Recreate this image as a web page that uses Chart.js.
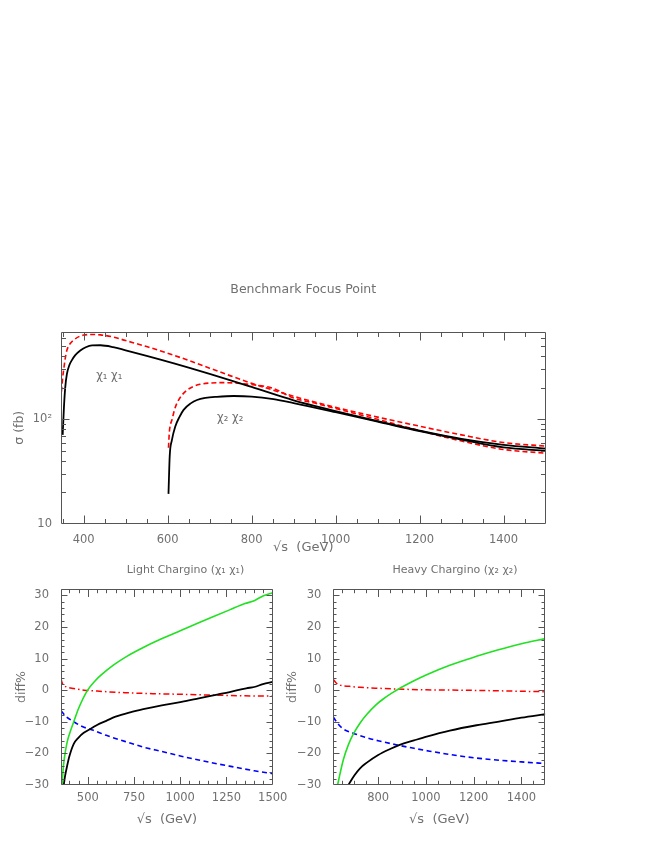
<!DOCTYPE html>
<html><head><meta charset="utf-8">
<script src="https://cdn.jsdelivr.net/npm/chart.js@4.4.1/dist/chart.umd.min.js"></script>
<style>
html,body{margin:0;padding:0;background:#fff;}
#wrap{position:relative;width:654px;height:846px;background:#fff;}
#wrap canvas{position:absolute;left:0;top:0;}
</style></head><body>
<div id="wrap">
<canvas id="cTop" width="654" height="846"></canvas>
<canvas id="cLight" width="654" height="846"></canvas>
<canvas id="cHeavy" width="654" height="846"></canvas>
</div>
<script>
// ---------- DATA: top panel, cross sections sigma (fb) vs sqrt(s) (GeV) ----------
const x1BlackS   = [350,353,356,360,366,372,380,392,405,420,440,470,500,550,600,650,700,750,800,900,1000,1100,1200,1300,1400,1500];
const x1BlackSig = [71,130,200,270,330,368,410,455,488,508,510,490,456,404,355,312,272,236,204,152,120,96,78,65,57,52.5];
const x1RedS     = [347,350,353,356,360,368,376,390,400,420,440,470,500,550,600,650,700,750,800,900,1000,1100,1200,1300,1400,1500];
const x1RedSig   = [184,250,310,380,457,530,571,620,638,646,640,612,565,495,428,365,308,260,221,166,130,105,86,71,60,55.5];
const x2BlackS   = [602,605,610,618,628,638,655,670,690,717,757,800,852,900,1000,1100,1200,1300,1400,1500];
const x2BlackSig = [19.4,45,63,85,105,123,142,153,160,164,167,165,156,143,117,95,77,64,54,50];
const x2RedS     = [602,604,607,610,616,622,634,646,660,677,700,733,789,850,900,950,1000,1100,1200,1300,1400,1500];
const x2RedSig   = [53.6,75,90,98,122,142,170,190,205,216,222,224,217,198,160,143,127,100,78,62,51.5,47.5];

// ---------- DATA: Light chargino diff% ----------
const lightGreenS = [361,366,370,377,388,400,424,450,499,540,576,640,711,800,890,1000,1100,1177,1267,1350,1400,1447,1500];
const lightGreenV = [-30,-25.5,-23,-20,-16.5,-14,-10,-5.8,0,3.0,5.0,8.0,10.7,13.5,16.0,18.8,21.3,23.2,25.4,27.4,28.3,29.8,30.8];
const lightBlackS = [370,376,388,400,424,450,478,522,550,600,650,729,800,900,1007,1100,1200,1267,1357,1400,1447,1500];
const lightBlackV = [-30,-27.5,-24,-21,-17,-15,-13.5,-12,-11,-9.7,-8.4,-7.0,-6.0,-4.8,-3.7,-2.6,-1.4,-0.6,0.6,1.0,1.9,2.6];
const lightBlueS  = [355,380,424,470,530,600,700,800,900,1000,1100,1200,1300,1400,1500];
const lightBlueV  = [-6.5,-8.2,-10,-11.5,-12.7,-14.3,-16.2,-18,-19.4,-20.8,-22.1,-23.3,-24.4,-25.5,-26.4];
const lightRedS   = [355,360,369,390,424,480,550,700,850,1000,1200,1350,1500];
const lightRedV   = [3.7,2.5,1.6,0.9,0.5,0,-0.3,-0.8,-1.1,-1.3,-1.6,-1.8,-1.9];

// ---------- DATA: Heavy chargino diff% ----------
const heavyGreenS = [630,640,654,675,695,725,751,793,821,860,900,950,1003,1100,1212,1300,1400,1500];
const heavyGreenV = [-30,-26.5,-22,-17.3,-14,-10.3,-7.8,-4.5,-2.8,-0.8,1.0,3.0,4.9,7.9,10.7,12.7,14.7,16.3];
const heavyBlackS = [675,700,723,751,800,850,890,950,1003,1100,1212,1300,1400,1500];
const heavyBlackV = [-30,-27,-24.8,-23,-20.5,-18.6,-17.3,-15.9,-14.7,-12.8,-11.1,-10,-8.7,-7.6];
const heavyBlueS  = [612,630,654,695,750,800,884,950,1016,1072,1150,1281,1400,1500];
const heavyBlueV  = [-8.5,-10.5,-12.3,-13.6,-15,-16,-17.4,-18.4,-19.3,-20,-20.9,-22,-22.7,-23.2];
const heavyRedS   = [612,625,640,680,723,800,905,1000,1142,1300,1400,1500];
const heavyRedV   = [3.4,2.2,1.6,1.2,0.9,0.6,0.3,0.1,0,-0.2,-0.35,-0.5];

// ---------- ticks ----------
const topXTicks   = [400,600,800,1000,1200,1400];
const topYTicks   = [10,100];
const lightXTicks = [500,750,1000,1250,1500];
const heavyXTicks = [800,1000,1200,1400];
const diffYTicks  = [-30,-20,-10,0,10,20,30];

// ---------- helpers ----------
const pairs = (xs, ys) => xs.map((x, i) => ({x, y: ys[i]}));
const range = (a, b, step) => { const r = []; for (let v = a; v <= b + 1e-9; v += step) r.push(+v.toFixed(6)); return r; };
const logMinors = (lo, hi) => { const r = []; for (let d = 1; d <= 1000; d *= 10) for (let m = 2; m <= 9; m++) { const v = m * d; if (v > lo && v < hi) r.push(v); } return r; };

const TXT = '#707070';
const FONT = "'DejaVu Sans', sans-serif";
Chart.defaults.font.family = FONT;
Chart.defaults.color = TXT;

const framePlugin = {
  id: 'frame',
  afterDatasetsDraw(chart, args, o) {
    const {ctx, chartArea: a} = chart;
    const xs = chart.scales.x, ys = chart.scales.y;
    ctx.save();
    ctx.strokeStyle = '#555';
    ctx.lineWidth = 1;
    const L = Math.round(a.left) + 0.5, R = Math.round(a.right) - 0.5;
    const T = Math.round(a.top) + 0.5, B = Math.round(a.bottom) - 0.5;
    ctx.beginPath();
    ctx.rect(L, T, R - L, B - T);
    const xt = (vals, len) => vals.forEach(v => {
      const p = Math.round(xs.getPixelForValue(v)) + 0.5;
      if (p < L - 0.1 || p > R + 0.1) return;
      ctx.moveTo(p, B); ctx.lineTo(p, B - len);
      ctx.moveTo(p, T); ctx.lineTo(p, T + len);
    });
    const yt = (vals, len) => vals.forEach(v => {
      const p = Math.round(ys.getPixelForValue(v)) + 0.5;
      if (p < T - 0.1 || p > B + 0.1) return;
      ctx.moveTo(L, p); ctx.lineTo(L + len, p);
      ctx.moveTo(R, p); ctx.lineTo(R - len, p);
    });
    xt(o.xMajor, o.xMajLen); xt(o.xMinor, o.xMinLen);
    yt(o.yMajor, o.yMajLen); yt(o.yMinor, o.yMinLen);
    ctx.stroke();
    ctx.fillStyle = TXT;
    ctx.textAlign = 'center';
    ctx.textBaseline = 'middle';
    (o.labels || []).forEach(t => {
      ctx.font = t.size + 'px ' + FONT;
      const px = t.page ? t.x : xs.getPixelForValue(t.x);
      const py = t.page ? t.y : ys.getPixelForValue(t.y);
      ctx.fillText(t.text, px, py);
    });
    ctx.restore();
  }
};

function lineDs(label, xs, ys, color, dash, width) {
  return {label, data: pairs(xs, ys), borderColor: color, borderWidth: width, borderDash: dash,
          pointRadius: 0, fill: false, cubicInterpolationMode: 'monotone'};
}

function makeChart(id, cfg) {
  return new Chart(document.getElementById(id), {
    type: 'line',
    data: {datasets: cfg.datasets},
    plugins: [framePlugin],
    options: {
      responsive: false, animation: false, events: [],
      layout: {padding: cfg.padding},
      plugins: {
        legend: {display: false}, tooltip: {enabled: false},
        title: cfg.title || {display: false},
        frame: cfg.frame
      },
      scales: {
        x: {
          type: 'linear', min: cfg.xMin, max: cfg.xMax,
          grid: {display: false, drawTicks: false}, border: {display: false},
          afterBuildTicks: s => { s.ticks = cfg.xTicks.map(v => ({value: v})); },
          afterFit: s => { s.height = cfg.xHeight; },
          ticks: {autoSkip: false, maxRotation: 0, padding: cfg.xTickPad, color: TXT, font: {size: 11.5},
                  callback: v => String(v)},
          title: {display: true, text: '√s  (GeV)', color: TXT, font: {size: 13}, padding: {top: 0, bottom: cfg.xTitlePad}}
        },
        y: {
          type: cfg.yType, min: cfg.yMin, max: cfg.yMax,
          grid: {display: false, drawTicks: false}, border: {display: false},
          afterBuildTicks: s => { s.ticks = cfg.yTicks.map(v => ({value: v})); },
          afterFit: s => { s.width = 55; },
          ticks: {autoSkip: false, padding: cfg.yTickPad, color: TXT, font: {size: 11.5}, callback: cfg.yLabel},
          title: {display: true, text: cfg.yTitle, color: TXT, font: {size: 12.5}, padding: {top: cfg.yTitlePad, bottom: 0}}
        }
      }
    }
  });
}

// ---------- top panel ----------
makeChart('cTop', {
  datasets: [
    lineDs('χ1χ1', x1BlackS, x1BlackSig, '#000', [], 1.8),
    lineDs('χ1χ1 (dashed)', x1RedS, x1RedSig, '#ff0000', [5, 3], 1.6),
    lineDs('χ2χ2', x2BlackS, x2BlackSig, '#000', [], 1.8),
    lineDs('χ2χ2 (dashed)', x2RedS, x2RedSig, '#ff0000', [5, 3], 1.6)
  ],
  padding: {left: 6, right: 108.5, top: 282.5, bottom: 282},
  title: {display: true, text: 'Benchmark Focus Point', fullSize: false, color: TXT,
          font: {size: 12.5, weight: 'normal'}, padding: {top: 0, bottom: 34}},
  xMin: 346, xMax: 1500, xTicks: topXTicks, xHeight: 40, xTitlePad: 8.5, xTickPad: 9,
  yType: 'logarithmic', yMin: 10, yMax: 690, yTicks: topYTicks, yTickPad: 9,
  yLabel: v => (v === 100 ? '10²' : String(v)),
  yTitle: 'σ (fb)', yTitlePad: 6.5,
  frame: {
    xMajor: topXTicks, xMinor: range(350, 1500, 50).filter(v => v % 200 !== 0), xMajLen: 8, xMinLen: 4.5,
    yMajor: topYTicks, yMinor: logMinors(10, 690), yMajLen: 8, yMinLen: 4.5,
    labels: [
      {text: 'χ₁ χ₁', x: 461, y: 260, size: 11.5},
      {text: 'χ₂ χ₂', x: 749, y: 103, size: 11.5}
    ]
  }
});

// ---------- bottom-left panel ----------
const diffLabel = v => (v < 0 ? '−' + Math.abs(v) : String(v));
makeChart('cLight', {
  datasets: [
    lineDs('green', lightGreenS, lightGreenV, '#22e022', [], 1.6),
    lineDs('black', lightBlackS, lightBlackV, '#000', [], 1.8),
    lineDs('blue', lightBlueS, lightBlueV, '#0000ff', [5, 3.5], 1.6),
    lineDs('red', lightRedS, lightRedV, '#ff0000', [6, 3, 1.5, 3], 1.5)
  ],
  padding: {left: 6, right: 381.3, top: 589, bottom: 16},
  xMin: 355, xMax: 1500, xTicks: lightXTicks, xHeight: 45, xTitlePad: 3, xTickPad: 6,
  yType: 'linear', yMin: -30, yMax: 32, yTicks: diffYTicks, yTickPad: 12, yLabel: diffLabel,
  yTitle: 'diff%', yTitlePad: 8.5,
  frame: {
    xMajor: lightXTicks, xMinor: range(400, 1450, 50).filter(v => v % 250 !== 0), xMajLen: 7.5, xMinLen: 3.7,
    yMajor: diffYTicks, yMinor: range(-28, 32, 2).filter(v => v % 10 !== 0), yMajLen: 6, yMinLen: 3,
    labels: [{text: 'Light Chargino (χ₁ χ₁)', x: 185.5, y: 570, size: 11, page: true}]
  }
});

// ---------- bottom-right panel ----------
makeChart('cHeavy', {
  datasets: [
    lineDs('green', heavyGreenS, heavyGreenV, '#22e022', [], 1.6),
    lineDs('black', heavyBlackS, heavyBlackV, '#000', [], 1.8),
    lineDs('blue', heavyBlueS, heavyBlueV, '#0000ff', [5, 3.5], 1.6),
    lineDs('red', heavyRedS, heavyRedV, '#ff0000', [6, 3, 1.5, 3], 1.5)
  ],
  padding: {left: 278.3, right: 108.7, top: 589, bottom: 16},
  xMin: 612, xMax: 1500, xTicks: heavyXTicks, xHeight: 45, xTitlePad: 3, xTickPad: 6,
  yType: 'linear', yMin: -30, yMax: 32, yTicks: diffYTicks, yTickPad: 12, yLabel: diffLabel,
  yTitle: 'diff%', yTitlePad: 7.2,
  frame: {
    xMajor: heavyXTicks, xMinor: range(650, 1450, 50).filter(v => v % 200 !== 0), xMajLen: 7.5, xMinLen: 3.7,
    yMajor: diffYTicks, yMinor: range(-28, 32, 2).filter(v => v % 10 !== 0), yMajLen: 6, yMinLen: 3,
    labels: [{text: 'Heavy Chargino (χ₂ χ₂)', x: 455, y: 570, size: 11, page: true}]
  }
});
</script>
</body></html>
